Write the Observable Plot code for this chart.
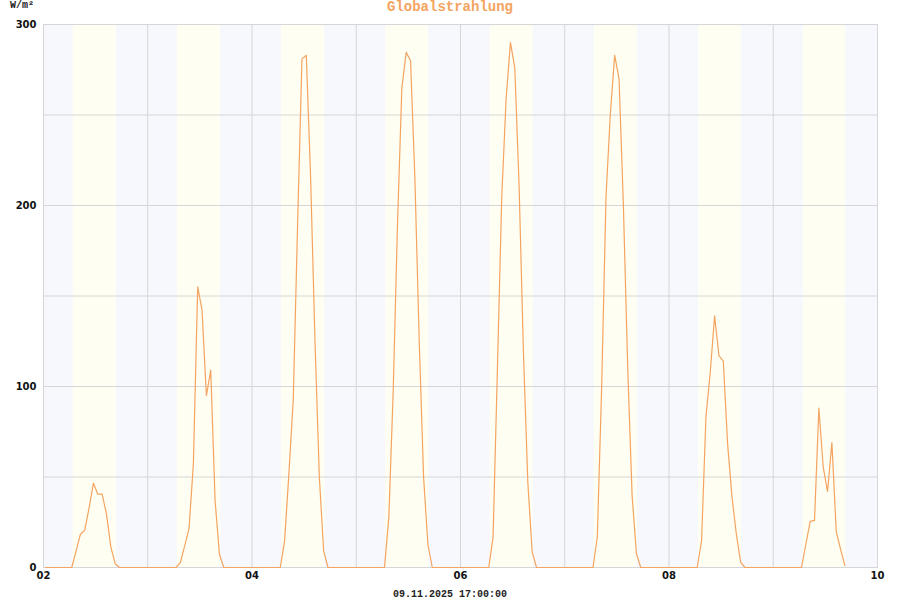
<!DOCTYPE html>
<html><head><meta charset="utf-8">
<script src="https://cdn.jsdelivr.net/npm/d3@7"></script>
<script src="https://cdn.jsdelivr.net/npm/@observablehq/plot@0.6"></script>
<style>
body{margin:0;background:#fff}
#wrap{position:relative;width:900px;height:600px}
#wrap svg{position:absolute;left:0;top:0}
.t{position:absolute;font-family:"Liberation Mono",monospace;font-weight:bold;white-space:nowrap}
</style></head><body>
<div id="wrap"></div>
<script>
// Hourly mean global radiation (W/m²), plotted at hh:30, hours 0..23
const day02 = [0,0,0,0,0,0,0,9,18.4,20.6,33,46.6,40.5,40.5,29.5,11.4,2.1,0,0,0,0,0,0,0];
const day03 = [0,0,0,0,0,0,0,2.7,12,21.5,57,155,142,95,109,37,7.3,0,0,0,0,0,0,0];
const day04 = [0,0,0,0,0,0,0,14.6,52,93,190,281,283,215,125,50,9,0,0,0,0,0,0,0];
const day05 = [0,0,0,0,0,0,0,27.7,97,190,265,284.6,280,215,125,50,12.7,0,0,0,0,0,0,0];
const day06 = [0,0,0,0,0,0,0,17,110,205,259,290,276,210,118,47,8.6,0,0,0,0,0,0,0];
const day07 = [0,0,0,0,0,0,0,17,100,205,251,283,270,200,110,40,7.6,0,0,0,0,0,0,0];
const day08 = [0,0,0,0,0,0,0,14.8,83,108,139,117,114,68,39,18.5,2.8,0,0,0,0,0,0,0];
const day09 = [0,0,0,0,0,0,0,12.7,25.5,26,88,55.5,42,69,20,10,1];
const dayNumbers = [2,3,4,5,6,7,8,9];
const sunriseHour = [6.8,6.8,6.8,6.8,6.8,6.8,6.8,6.9];
const sunsetHour  = [16.8,16.8,16.8,16.7,16.7,16.7,16.7,16.7];
const yTicks = [0,100,200,300];
const xLabelDays = [2,4,6,8,10];
const titleText = "Globalstrahlung";
const unitText = "W/m²";
const stampText = "09.11.2025 17:00:00";

const days = [day02,day03,day04,day05,day06,day07,day08,day09];
const series = [];
days.forEach((vals,i)=>{
  vals.forEach((v,h)=>series.push({t:new Date(Date.UTC(2025,10,dayNumbers[i],h,30)), v}));
});
const bands = dayNumbers.map((d,i)=>({
  start:new Date(Date.UTC(2025,10,d)+sunriseHour[i]*3600e3),
  end:new Date(Date.UTC(2025,10,d)+sunsetHour[i]*3600e3)
}));
const dayGrid = d3.range(2,11).map(d=>new Date(Date.UTC(2025,10,d)));
const xLabels = xLabelDays.map(d=>new Date(Date.UTC(2025,10,d)));

const nightColor = "#f6f8fe", dayColor = "#fffef2", gridColor = "#d6d6d8", lineColor = "#f4a460";

const chart = Plot.plot({
  width: 900, height: 600,
  marginLeft: 43, marginRight: 23, marginTop: 24, marginBottom: 33,
  style: {fontFamily: "DejaVu Sans", fontSize: "10px", fontWeight: "bold", color: "#111", background: "transparent"},
  x: {type: "utc", domain: [dayGrid[0], dayGrid[dayGrid.length-1]]},
  y: {domain: [0,300]},
  marks: [
    Plot.frame({fill: nightColor, stroke: null}),
    Plot.rect(bands, {x1:"start", x2:"end", y1:0, y2:300, fill: dayColor}),
    Plot.gridY(d3.range(0,301,50), {stroke: gridColor, strokeOpacity: 1}),
    Plot.gridX(dayGrid, {stroke: gridColor, strokeOpacity: 1}),
    Plot.frame({stroke: gridColor, strokeOpacity: 1}),
    Plot.axisY(yTicks, {tickSize: 0, tickPadding: 7, label: null}),
    Plot.axisX(xLabels, {tickSize: 0, tickPadding: 4, tickFormat: d3.utcFormat("%d"), label: null}),
    Plot.line(series, {x:"t", y:"v", stroke: lineColor, strokeWidth: 1.2})
  ]
});
const wrap = document.getElementById("wrap");
wrap.appendChild(chart);
function addText(txt, style){
  const d = document.createElement("div");
  d.className = "t"; d.textContent = txt;
  Object.assign(d.style, style);
  wrap.appendChild(d);
}
addText(titleText, {left:"0", width:"900px", textAlign:"center", top:"-1px", fontSize:"14px", color:lineColor});
addText(unitText, {left:"10px", top:"0px", fontSize:"10px", color:"#222"});
addText(stampText, {left:"0", width:"900px", textAlign:"center", top:"589px", fontSize:"10px", color:"#222"});
</script>
</body></html>
